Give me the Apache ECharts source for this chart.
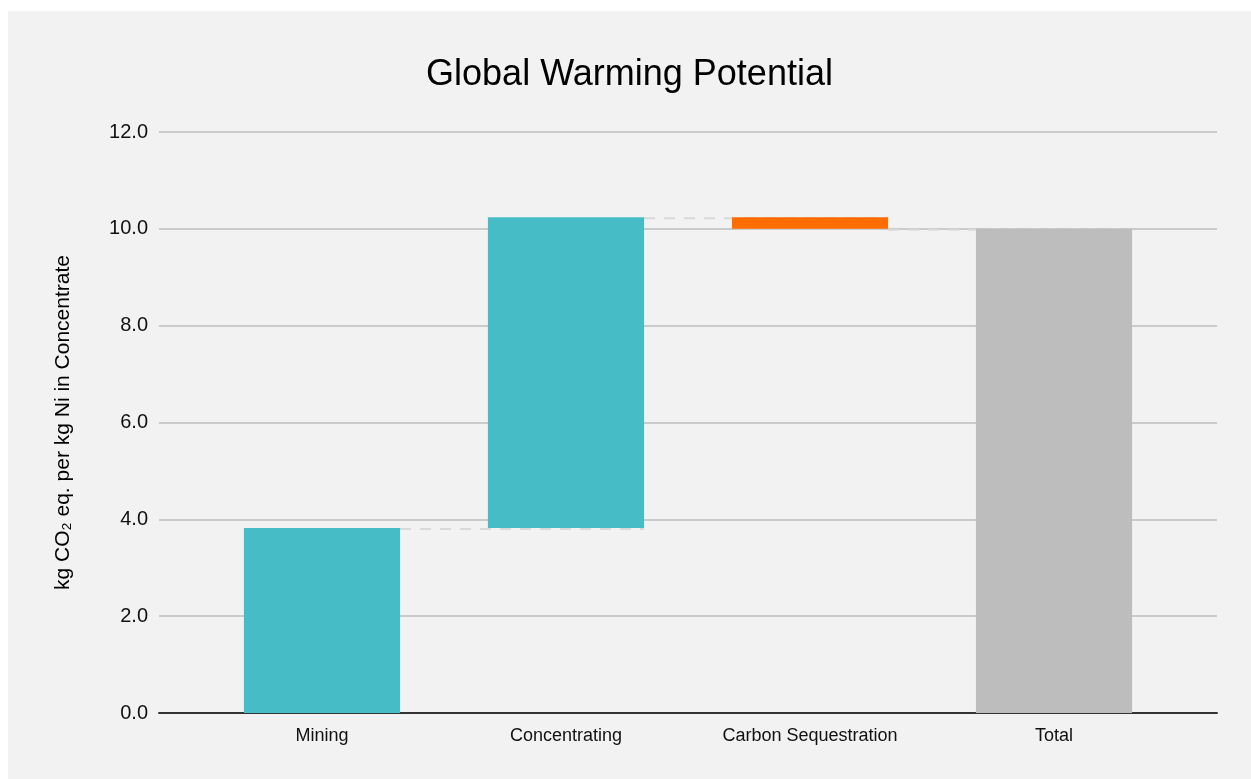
<!DOCTYPE html>
<html>
<head>
<meta charset="utf-8">
<script src="https://cdn.jsdelivr.net/npm/echarts@6/dist/echarts.min.js"></script>
<style>
  html, body { margin: 0; padding: 0; background: #ffffff; }
  #chart { position: absolute; left: 8px; top: 11px; width: 1243px; height: 768px; background: #f2f2f2; }
</style>
</head>
<body>
<div id="chart"></div>
<script>
// data
const categories = ['Mining', 'Concentrating', 'Carbon Sequestration', 'Total'];
const stepValues = [3.82, 6.42, -0.24];
const totalValue = 10.0;
const yTicks = [0, 2, 4, 6, 8, 10, 12];

const colors = { up: '#46bdc6', down: '#ff6d01', total: '#bdbdbd' };
const barUnits = 0.64; // bar width in category units

// build waterfall rows: [index, low, high, kind]
const rows = [];
const levels = [];
let running = 0;
stepValues.forEach((v, i) => {
  const next = running + v;
  rows.push([i, Math.min(running, next), Math.max(running, next), v >= 0 ? 'up' : 'down']);
  running = next;
  levels.push([i, running]);
});
rows.push([stepValues.length, 0, totalValue, 'total']);

const chart = echarts.init(document.getElementById('chart'));

const font = "'Liberation Sans', Arial, sans-serif";

chart.setOption({
  backgroundColor: '#f2f2f2',
  animation: false,
  title: {
    text: 'Global Warming Potential',
    left: 'center',
    top: 41,
    textStyle: { fontFamily: font, fontSize: 36, fontWeight: 'normal', color: '#000' }
  },
  grid: { left: 151, right: 34, top: 121, bottom: 66 },
  xAxis: {
    type: 'value',
    min: -0.668,
    max: 3.668,
    splitLine: { show: false },
    axisTick: { show: false },
    axisLine: { show: true, onZero: false, lineStyle: { color: '#333', width: 2 } },
    axisLabel: {
      customValues: [0, 1, 2, 3],
      formatter: v => categories[Math.round(v)],
      fontFamily: font,
      fontSize: 18,
      color: '#111',
      margin: 14
    }
  },
  yAxis: {
    type: 'value',
    min: yTicks[0],
    max: yTicks[yTicks.length - 1],
    interval: 2,
    name: 'kg CO\u2082 eq. per kg Ni in Concentrate',
    nameLocation: 'middle',
    nameGap: 85,
    nameTextStyle: { fontFamily: font, fontSize: 21, color: '#000' },
    axisLine: { show: false },
    axisTick: { show: false },
    axisLabel: {
      formatter: v => v.toFixed(1),
      fontFamily: font,
      fontSize: 20,
      color: '#111',
      margin: 11
    },
    splitLine: { lineStyle: { color: '#bdbdbd', width: 1.5 } }
  },
  series: [
    {
      // dashed connectors between bars
      type: 'custom',
      z: 1,
      data: levels,
      renderItem: (params, api) => {
        const i = api.value(0);
        const lvl = api.value(1);
        const half = barUnits / 2;
        const p1 = api.coord([i + half, lvl]);
        const p2 = api.coord([i + 1 + half, lvl]);
        return {
          type: 'line',
          shape: { x1: p1[0], y1: p1[1] + 1, x2: p2[0], y2: p2[1] + 1 },
          style: { stroke: '#d9d9d9', lineWidth: 2, lineDash: [11, 9] }
        };
      }
    },
    {
      type: 'custom',
      z: 2,
      data: rows,
      renderItem: (params, api) => {
        const i = api.value(0);
        const low = api.value(1);
        const high = api.value(2);
        const kind = rows[params.dataIndex][3];
        const half = barUnits / 2;
        const tl = api.coord([i - half, high]);
        const br = api.coord([i + half, low]);
        return {
          type: 'rect',
          shape: { x: tl[0], y: tl[1], width: br[0] - tl[0], height: br[1] - tl[1] },
          style: { fill: colors[kind] }
        };
      }
    }
  ]
});
</script>
</body>
</html>
